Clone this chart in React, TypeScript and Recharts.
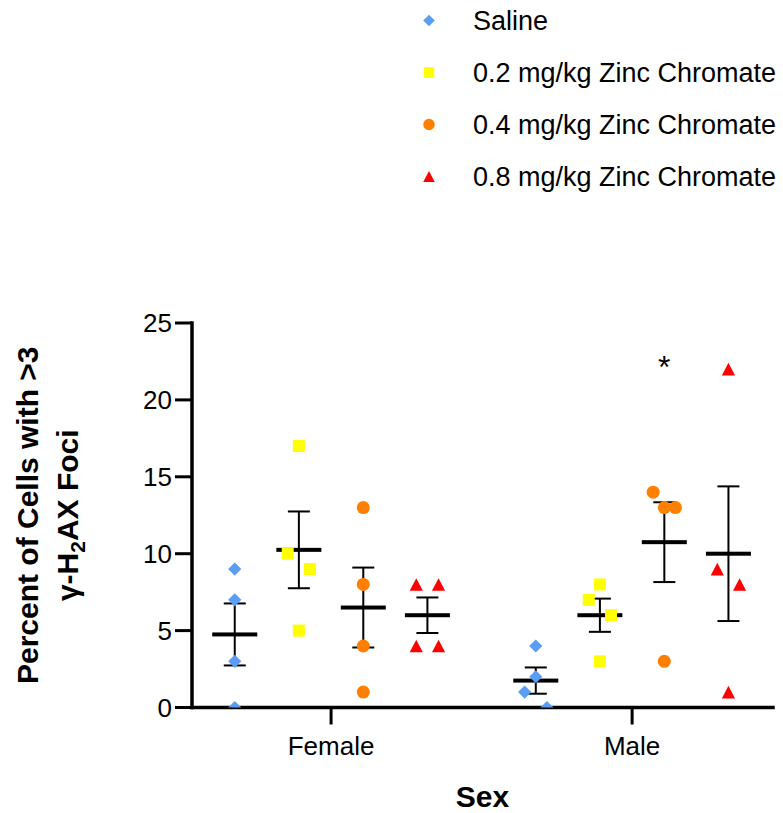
import { ErrorBar, Scatter, ScatterChart, XAxis, YAxis } from 'recharts'

// values (% cells with >3 γ-H2AX foci, one per animal)
const SEXES = ['Female', 'Male']
const GROUPS = ['Saline', '0.2 mg/kg Zinc Chromate', '0.4 mg/kg Zinc Chromate', '0.8 mg/kg Zinc Chromate']
const SALINE_FEMALE = [9, 7, 3, 0]
const SALINE_MALE = [4, 2, 1, 0]
const ZC02_FEMALE = [17, 10, 9, 5]
const ZC02_MALE = [8, 7, 6, 3]
const ZC04_FEMALE = [13, 8, 4, 1]
const ZC04_MALE = [13, 14, 13, 3]
const ZC08_FEMALE = [8, 8, 4, 4]
const ZC08_MALE = [22, 9, 8, 1]
const Y_TICKS = [0, 5, 10, 15, 20, 25]
// significance mark: Male, 0.4 mg/kg
const STARS = [{ sex: 1, group: 2, label: '*' }]
const STAR_Y = 22.6

const VALUES = [
  [SALINE_FEMALE, SALINE_MALE],
  [ZC02_FEMALE, ZC02_MALE],
  [ZC04_FEMALE, ZC04_MALE],
  [ZC08_FEMALE, ZC08_MALE],
]

const FONT = '"Liberation Sans", Arial, Helvetica, sans-serif'
const COLORS = ['#599df4', '#ffff00', '#ff8000', '#ff0000']
const KINDS = ['diamond', 'square', 'circle', 'triangle'] as const
const GROUP_SHIFT = [-0.32, -0.107, 0.107, 0.32]
const JITTER = 0.037

const W = 783
const H = 813

// spread points whose values sit close together, like a column scatter
function spread(values: number[]) {
  const order = values.map((_, i) => i).sort((a, b) => values[b] - values[a])
  const offsets = values.map(() => 0)
  let cluster = [order[0]]
  const flush = () => {
    const members = [...cluster].sort((a, b) => a - b)
    const pattern = members.length % 2 === 1 ? [0, -1, 1, -2, 2] : [-1, 1, -2, 2]
    members.forEach((idx, k) => {
      offsets[idx] = pattern[k]
    })
  }
  for (let k = 1; k < order.length; k++) {
    if (values[order[k - 1]] - values[order[k]] <= 1) {
      cluster.push(order[k])
    } else {
      flush()
      cluster = [order[k]]
    }
  }
  flush()
  return offsets
}

function mean(v: number[]) {
  return v.reduce((a, b) => a + b, 0) / v.length
}

function sem(v: number[]) {
  const m = mean(v)
  const sd = Math.sqrt(v.reduce((a, b) => a + (b - m) ** 2, 0) / (v.length - 1))
  return sd / Math.sqrt(v.length)
}

const pointsByGroup = GROUPS.map((_, g) =>
  SEXES.flatMap((_, s) => {
    const vals = VALUES[g][s]
    const off = spread(vals)
    return vals.map((y, i) => ({ x: s + 1 + GROUP_SHIFT[g] + off[i] * JITTER, y }))
  }),
)

const means = GROUPS.flatMap((_, g) =>
  SEXES.map((_, s) => ({
    x: s + 1 + GROUP_SHIFT[g],
    y: mean(VALUES[g][s]),
    sem: sem(VALUES[g][s]),
  })),
)

const stars = STARS.map((st) => ({ x: st.sex + 1 + GROUP_SHIFT[st.group], y: STAR_Y, label: st.label }))

function Marker({ kind, cx, cy, color, k = 1 }: { kind: string; cx: number; cy: number; color: string; k?: number }) {
  if (kind === 'diamond') {
    const r = 6.6 * k
    return <path d={`M${cx},${cy - r}L${cx + r},${cy}L${cx},${cy + r}L${cx - r},${cy}Z`} fill={color} />
  }
  if (kind === 'square') {
    const r = 6 * k
    return <rect x={cx - r} y={cy - r} width={2 * r} height={2 * r} fill={color} />
  }
  if (kind === 'circle') {
    return <circle cx={cx} cy={cy} r={6.5 * k} fill={color} />
  }
  const h = 6.3 * k
  const w = 6.6 * k
  return <path d={`M${cx},${cy - h}L${cx + w},${cy + h}L${cx - w},${cy + h}Z`} fill={color} />
}

function Legend() {
  return (
    <svg width={W} height={200} style={{ position: 'absolute', left: 0, top: 0 }}>
      {GROUPS.map((name, g) => {
        const cy = 20.5 + g * 52
        return (
          <g key={name}>
            <Marker kind={KINDS[g]} cx={429} cy={cy} color={COLORS[g]} k={0.88} />
            <text x={473} y={cy + 9.5} fontSize={27} fontFamily={FONT} fill="#000">
              {name}
            </text>
          </g>
        )
      })}
    </svg>
  )
}

function YTitle({ viewBox }: any) {
  const cy = viewBox.y + viewBox.height / 2
  return (
    <g fontFamily={FONT} fontWeight="bold" fontSize={30} fill="#000" textAnchor="middle">
      <text x={38} y={cy} transform={`rotate(-90, 38, ${cy})`}>
        Percent of Cells with &gt;3
      </text>
      <text x={78} y={cy} transform={`rotate(-90, 78, ${cy})`}>
        γ-H<tspan fontSize={21} dy={7}>2</tspan>
        <tspan dy={-7}>AX Foci</tspan>
      </text>
    </g>
  )
}

function XTitle({ viewBox }: any) {
  return (
    <text
      x={viewBox.x + viewBox.width / 2}
      y={807}
      textAnchor="middle"
      fontFamily={FONT}
      fontWeight="bold"
      fontSize={30}
      fill="#000"
    >
      Sex
    </text>
  )
}

export default function App() {
  const axisLine = { stroke: '#000', strokeWidth: 3.5, strokeLinecap: 'square' as const }
  const tickLine = { stroke: '#000', strokeWidth: 3 }
  return (
    <div style={{ position: 'absolute', left: 0, top: 0, width: W, height: H, background: '#fff' }}>
      <ScatterChart width={W} height={H} margin={{ top: 323, right: 10, bottom: 45.5, left: 112 }}>
        <XAxis
          type="number"
          dataKey="x"
          domain={[0.538, 2.468]}
          ticks={[1, 2]}
          allowDataOverflow
          tickFormatter={(v: number) => SEXES[Math.round(v) - 1] ?? ''}
          height={60}
          axisLine={axisLine}
          tickLine={tickLine}
          tickSize={17}
          tickMargin={12}
          tick={{ fill: '#000', fontSize: 26, fontFamily: FONT }}
          label={{ content: (p: any) => <XTitle {...p} /> }}
        />
        <YAxis
          type="number"
          dataKey="y"
          domain={[0, 25]}
          ticks={Y_TICKS}
          allowDataOverflow
          width={80}
          axisLine={axisLine}
          tickLine={tickLine}
          tickSize={17}
          tickMargin={3}
          tick={{ fill: '#000', fontSize: 26, fontFamily: FONT }}
          label={{ content: (p: any) => <YTitle {...p} /> }}
        />
        <Scatter
          data={means}
          isAnimationActive={false}
          shape={(p: any) => <rect x={p.cx - 22.5} y={p.cy - 2} width={45} height={4} fill="#000" />}
        >
          <ErrorBar dataKey="sem" direction="y" width={11} strokeWidth={2} stroke="#000" isAnimationActive={false} />
        </Scatter>
        {GROUPS.map((name, g) => (
          <Scatter
            key={name}
            name={name}
            data={pointsByGroup[g]}
            isAnimationActive={false}
            shape={(p: any) => <Marker kind={KINDS[g]} cx={p.cx} cy={p.cy} color={COLORS[g]} />}
          />
        ))}
        <Scatter
          data={stars}
          isAnimationActive={false}
          shape={(p: any) => (
            <text x={p.cx} y={p.cy + 18} textAnchor="middle" fontSize={32} fontFamily={FONT} fill="#000">
              {p.payload.label}
            </text>
          )}
        />
      </ScatterChart>
      <Legend />
    </div>
  )
}
